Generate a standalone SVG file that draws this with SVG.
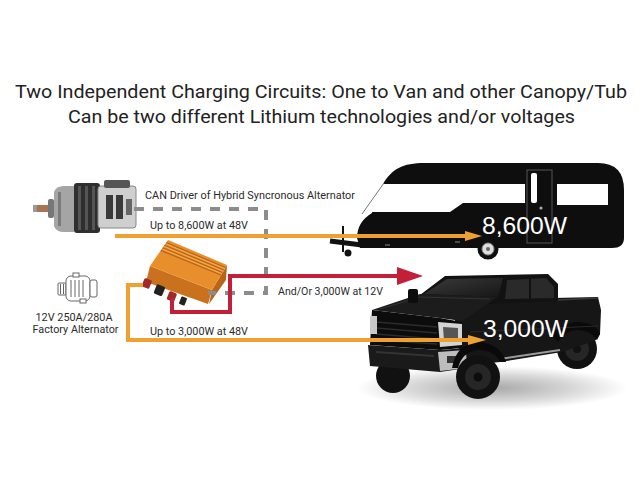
<svg xmlns="http://www.w3.org/2000/svg" width="640" height="480" viewBox="0 0 640 480">
<style>
.title{font-family:Roboto,"Liberation Sans",sans-serif;font-size:18.5px;fill:#222}
.lbl{font-family:Roboto,"Liberation Sans",sans-serif;font-size:11.3px;fill:#2b2b2b}
.big{font-family:"Liberation Sans",Arial,sans-serif;font-size:24px;fill:#fff}
.orange{fill:none;stroke:#EFA030;stroke-width:4}
.red{fill:none;stroke:#C41F38;stroke-width:4}
.can{fill:none;stroke:#8c8c8c;stroke-width:4}
.icon{fill:#fff;stroke:#666;stroke-width:1}
</style>
<defs>
<radialGradient id="shadow" cx="0.5" cy="0.5" r="0.5">
<stop offset="0" stop-color="#a8a8a8"/>
<stop offset="0.6" stop-color="#d8d8d8"/>
<stop offset="1" stop-color="#fff"/>
</radialGradient>
<linearGradient id="glass" x1="0" y1="0" x2="1" y2="1">
<stop offset="0" stop-color="#3a3a3a"/>
<stop offset="1" stop-color="#161616"/>
</linearGradient>
</defs>
<rect width="640" height="480" fill="#fff"/>

<g id="title">
<text class="title" x="321" y="98" text-anchor="middle" textLength="612" lengthAdjust="spacingAndGlyphs">Two Independent Charging Circuits: One to Van and other Canopy/Tub</text>
<text class="title" x="321.5" y="123" text-anchor="middle" textLength="507" lengthAdjust="spacingAndGlyphs">Can be two different Lithium technologies and/or voltages</text>
</g>

<g id="hybrid-alternator">
<rect x="33" y="205" width="20" height="7" fill="#a8754f"/>
<rect x="33" y="205" width="4" height="7" fill="#999"/>
<rect x="48" y="199" width="6" height="19" rx="2" fill="#777"/>
<path d="M54,192 Q56,186 64,186 L74,186 L74,232 L64,232 Q56,232 54,226 Z" fill="#a5a5a5"/>
<rect x="58" y="192" width="3" height="34" fill="#7a7a7a"/>
<rect x="74" y="183" width="26" height="50" rx="3" fill="#2f2f2f"/>
<rect x="78" y="186" width="3" height="44" fill="#555"/>
<rect x="85" y="186" width="3" height="44" fill="#555"/>
<rect x="92" y="186" width="3" height="44" fill="#555"/>
<rect x="98" y="186" width="38" height="42" rx="3" fill="#cfcfcf" stroke="#888" stroke-width="1"/>
<rect x="104" y="180" width="26" height="8" rx="2" fill="#555"/>
<rect x="106" y="195" width="7" height="24" fill="#3a3a3a"/>
<rect x="116" y="195" width="7" height="24" fill="#3a3a3a"/>
<rect x="126" y="199" width="6" height="16" fill="#666"/>
</g>

<g id="factory-alternator">
<rect class="icon" x="58" y="283" width="8" height="12" rx="1"/>
<line x1="60.5" y1="284" x2="60.5" y2="294" stroke="#666"/>
<line x1="63.5" y1="284" x2="63.5" y2="294" stroke="#666"/>
<rect class="icon" x="66" y="276" width="24" height="25" rx="5"/>
<rect class="icon" x="73" y="273" width="6" height="4"/>
<rect class="icon" x="80" y="299" width="6" height="4"/>
<line x1="71" y1="280" x2="71" y2="297" stroke="#666"/>
<line x1="75" y1="280" x2="75" y2="297" stroke="#666"/>
<line x1="79" y1="280" x2="79" y2="297" stroke="#666"/>
<line x1="83" y1="280" x2="83" y2="297" stroke="#666"/>
<rect class="icon" x="90" y="280" width="7" height="17" rx="2"/>
</g>

<g id="caravan">
<line x1="330" y1="241" x2="362" y2="245" stroke="#111" stroke-width="5"/>
<line x1="343" y1="226" x2="343" y2="252" stroke="#111" stroke-width="2"/>
<circle cx="348" cy="253" r="3.5" fill="#111"/>
<path d="M383,184 C392,169 402,163 425,163 L598,163 Q624,163 624,190 L624,238 Q624,248 612,248 L360,248 L357,238 Q357,222 372,213 L372,184 Z" fill="#0e0e0e"/>
<path d="M366,184 L525,184 L525,203 L463,203 L450,212 L366,212 Z" fill="#fff"/>
<line x1="362" y1="214" x2="384" y2="183" stroke="#777" stroke-width="1"/>
<rect x="527" y="170" width="25" height="73" fill="none" stroke="#555" stroke-width="1"/>
<rect x="531" y="173" width="6" height="30" rx="2" fill="#fff"/>
<circle cx="541" cy="208" r="1.6" fill="#aaa"/>
<rect x="557" y="184" width="51" height="21" fill="#fff"/>
<circle cx="488" cy="249" r="10.5" fill="#0e0e0e"/>
<circle cx="488" cy="249" r="6" fill="#ddd" stroke="#888" stroke-width="1"/>
<circle cx="488" cy="249" r="2" fill="#666"/>
<line x1="385" y1="245" x2="390" y2="245" stroke="#888" stroke-width="1"/>
<line x1="455" y1="242" x2="460" y2="242" stroke="#888" stroke-width="1"/>
</g>

<g id="truck">
<ellipse cx="492" cy="388" rx="135" ry="22" fill="url(#shadow)"/>
<circle cx="577" cy="349" r="20" fill="#111"/>
<circle cx="577" cy="349" r="12" fill="#262626"/>
<circle cx="577" cy="349" r="4" fill="#111"/>
<path d="M455,300 L598,297 L601,310 L600,334 L596,340 L562,352 L500,362 L462,366 L455,330 Z" fill="#161616"/>
<path d="M552,336 Q560,322 580,322 Q597,324 600,334 L597,340 Q590,330 578,330 Q565,330 558,342 Z" fill="#0a0a0a"/>
<line x1="558" y1="300" x2="598" y2="298" stroke="#3a3a3a" stroke-width="1.5"/>
<line x1="500" y1="359" x2="560" y2="350" stroke="#9a9a9a" stroke-width="2"/>
<line x1="470" y1="332" x2="598" y2="326" stroke="#2a2a2a" stroke-width="1"/>
<circle cx="393" cy="376" r="17" fill="#111"/>
<path d="M372,310 L440,318 L462,322 L462,348 L440,350 L370,345 Z" fill="#0c0c0c"/>
<path d="M376,322 L437,327 M376,328 L437,333 M376,334 L437,339 M376,340 L437,344" stroke="#2c2c2c" stroke-width="1.5"/>
<rect x="370" y="316" width="7" height="18" fill="#c9c9c9"/>
<path d="M438,322 L462,324 L462,345 L440,347 Z" fill="#d4d4d4"/>
<path d="M443,327 L458,328 L458,340 L444,341 Z" fill="#555"/>
<path d="M368,345 L440,350 L466,348 L467,368 L440,372 L370,366 Z" fill="#1a1a1a"/>
<path d="M438,352 L466,350 L467,368 L440,371 Z" fill="#bdbdbd"/>
<rect x="447" y="356" width="11" height="7" fill="#333"/>
<path d="M376,352 L434,356" stroke="#333" stroke-width="2"/>
<circle cx="478" cy="377" r="22" fill="#111"/>
<circle cx="478" cy="377" r="13" fill="#262626"/>
<circle cx="478" cy="377" r="4.5" fill="#0d0d0d"/>
<path d="M452,368 Q456,344 478,342 Q500,343 506,362 L500,362 Q494,350 478,350 Q462,352 458,368 Z" fill="#0a0a0a"/>
<path d="M420,295 L445,276 L548,274 L558,284 L558,301 L455,305 Z" fill="#121212"/>
<path d="M424,294 L447,279 L503,278 L498,297 Z" fill="url(#glass)"/>
<path d="M507,280 L546,278 L554,287 L554,298 L505,299 Z" fill="#2a2a2a"/>
<line x1="530" y1="279" x2="530" y2="299" stroke="#111" stroke-width="2"/>
<path d="M372,310 L420,294 L498,297 L462,321 L440,318 Z" fill="#1c1c1c"/>
<path d="M380,309 L420,297 L490,299" fill="none" stroke="#333" stroke-width="1"/>
<rect x="408" y="289" width="10" height="14" rx="2" fill="#0d0d0d"/>
</g>

<g id="controller">
<path d="M150,266 L212,290 L208,304 L146,282 Z" fill="#C9711C"/>
<path d="M227,265 L226,280 L209,304 L212,290 Z" fill="#B8651A"/>
<path d="M168,240 L227,265 L212,290 L150,266 Z" fill="#E88E2A"/>
<path d="M166.2,242.6 L225.5,267.5 M164.4,245.2 L224,270 M162.6,247.8 L222.5,272.5 M160.8,250.4 L221,275" stroke="#B5641A" stroke-width="1.2"/>
<path d="M166.5,244 L225,268.8 M164.7,246.6 L223.5,271.3 M162.9,249.2 L222,273.8" stroke="#F7B55A" stroke-width="0.8"/>
<rect x="143" y="279" width="8" height="9" rx="1.5" fill="#9e2a2a" transform="rotate(22 147 283)"/>
<rect x="155" y="285" width="9" height="10" rx="1.5" fill="#222" transform="rotate(22 159 290)"/>
<rect x="168" y="292" width="8" height="9" rx="1.5" fill="#9e2a2a" transform="rotate(22 172 296)"/>
<rect x="180" y="297" width="6" height="8" rx="1" fill="#222" transform="rotate(22 183 301)"/>
</g>

<g id="connectors">
<path class="can" stroke-dasharray="10 9" d="M134,209 H266 V293 H208"/>
<path class="orange" d="M115,236 H468"/>
<path d="M465,231 L482,236 L465,241 Z" fill="#EFA030"/>
<path class="orange" d="M143,285 H128 V340 H471"/>
<path d="M468,335 L486,340 L468,345 Z" fill="#EFA030"/>
<path class="red" d="M172,298 V312 H230 V276 H400"/>
<path d="M397,267 L423,276 L397,285 Z" fill="#C41F38"/>
</g>

<g id="labels">
<text class="lbl" x="145" y="199" textLength="210" lengthAdjust="spacingAndGlyphs">CAN Driver of Hybrid Syncronous Alternator</text>
<text class="lbl" x="150" y="229" textLength="98" lengthAdjust="spacingAndGlyphs">Up to 8,600W at 48V</text>
<text class="lbl" x="278" y="295" textLength="105" lengthAdjust="spacingAndGlyphs">And/Or 3,000W at 12V</text>
<text class="lbl" x="150" y="335" textLength="98" lengthAdjust="spacingAndGlyphs">Up to 3,000W at 48V</text>
<text class="lbl" x="74" y="321" text-anchor="middle" textLength="77" lengthAdjust="spacingAndGlyphs">12V 250A/280A</text>
<text class="lbl" x="75.5" y="333" text-anchor="middle" textLength="86" lengthAdjust="spacingAndGlyphs">Factory Alternator</text>
<text class="big" x="482" y="234" textLength="85" lengthAdjust="spacingAndGlyphs">8,600W</text>
<text class="big" x="483" y="337" textLength="85" lengthAdjust="spacingAndGlyphs">3,000W</text>
</g>
</svg>
